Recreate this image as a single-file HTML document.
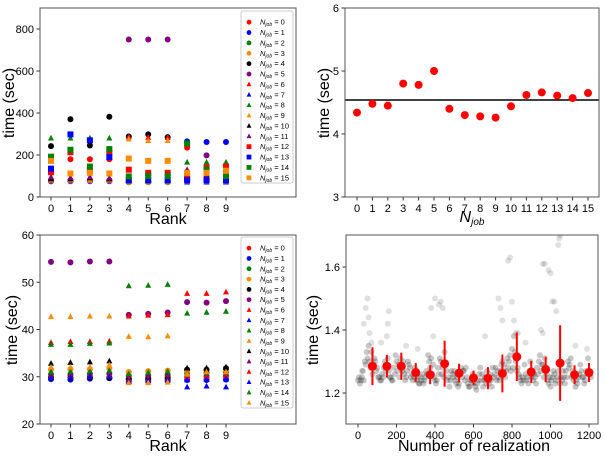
<!DOCTYPE html>
<html><head><meta charset="utf-8">
<style>
body{margin:0;background:#fff;}
svg{display:block;font-family:"Liberation Sans","DejaVu Sans",sans-serif;}
</style></head>
<body>
<svg id="fig" width="605" height="457" viewBox="0 0 605 457"></svg>
<script>
// ---------- DATA ----------
const ranks = [0,1,2,3,4,5,6,7,8,9];
const seriesLabels = ["0","1","2","3","4","5","6","7","8","9","10","11","12","13","14","15"];
const seriesColors = ["red","blue","green","darkorange","black","purple","red","blue","green","darkorange","black","purple","red","blue","green","darkorange"];
const topShapes = ["o","o","o","o","o","o","^","^","^","^","^","^","s","s","s","s"];
const botShapes = ["o","o","o","o","o","o","^","^","^","^","^","^","^","^","^","^"];
const topS0=[75,180,180,180,75,75,75,235,95,95];
const topS1=[75,75,75,75,75,75,75,265,262,262];
const topS2=[80,80,80,80,70,70,70,80,80,80];
const topS3=[78,78,78,78,72,72,72,78,78,78];
const topS4=[242,370,245,382,288,298,285,85,90,90];
const topS5=[80,80,80,80,750,750,750,90,198,85];
const topS6=[85,85,85,85,285,283,282,90,95,95];
const topS7=[80,80,80,80,75,75,75,70,70,70];
const topS8=[280,280,280,280,80,80,80,165,165,165];
const topS9=[80,80,80,80,275,268,268,75,75,75];
const topS10=[85,85,90,85,78,78,78,85,90,90];
const topS11=[95,92,95,90,80,80,80,130,100,110];
const topS12=[118,213,125,212,130,115,115,100,140,145];
const topS13=[135,298,270,190,80,80,80,80,80,80];
const topS14=[192,225,145,228,98,100,100,255,130,100];
const topS15=[172,112,115,112,183,172,172,115,115,125];
const topSeries=[topS0,topS1,topS2,topS3,topS4,topS5,topS6,topS7,topS8,topS9,topS10,topS11,topS12,topS13,topS14,topS15];

const botS0=[29.8,29.8,29.8,29.9,29.4,29.5,29.5,30.0,30.0,30.1];
const botS1=[29.5,29.4,29.6,29.7,29.0,29.1,29.2,29.3,29.3,29.4];
const botS2=[30.5,30.5,30.6,30.7,30.2,30.3,30.4,30.8,30.8,30.9];
const botS3=[31.5,31.6,31.6,31.8,31.0,31.2,31.3,31.2,31.4,31.5];
const botS4=[29.8,29.8,29.8,29.7,29.6,29.7,29.8,31.5,31.5,31.8];
const botS5=[54.3,54.2,54.4,54.4,43.1,43.3,43.6,45.8,45.7,46.0];
const botS6=[37.2,37.4,37.4,37.5,42.8,43.0,43.1,47.6,47.6,47.9];
const botS7=[31.0,31.0,31.1,31.2,29.0,29.1,29.2,27.8,28.0,27.8];
const botS8=[36.8,36.8,37.0,37.1,49.2,49.3,49.5,43.4,43.6,43.8];
const botS9=[42.7,42.7,42.8,42.8,38.5,38.4,38.6,31.5,31.8,32.0];
const botS10=[32.8,33.0,33.1,33.3,30.0,30.3,30.5,31.8,31.8,32.0];
const botS11=[30.5,30.6,30.7,30.8,30.2,30.3,30.4,30.5,30.6,30.7];
const botS12=[30.0,30.1,30.1,30.2,29.3,29.4,29.5,29.9,30.0,30.1];
const botS13=[29.8,29.9,30.0,30.0,29.0,29.2,29.3,29.3,29.4,29.5];
const botS14=[31.0,31.1,31.2,31.3,30.6,30.9,31.1,30.6,30.8,30.9];
const botS15=[32.0,32.0,32.0,32.5,28.7,28.7,28.8,30.5,31.0,31.0];
const botSeries=[botS0,botS1,botS2,botS3,botS4,botS5,botS6,botS7,botS8,botS9,botS10,botS11,botS12,botS13,botS14,botS15];

const njob = [0,1,2,3,4,5,6,7,8,9,10,11,12,13,14,15];
const njobTimes = [4.34,4.48,4.45,4.80,4.78,5.00,4.40,4.30,4.28,4.26,4.44,4.62,4.66,4.61,4.57,4.65];
const njobMean = 4.54;

const bandA=[1.24,1.23,1.25,1.24,1.29,1.31,1.30,1.33,1.29,1.30,1.28,1.25,1.24,1.25,1.30,1.29,1.27,1.25,1.24,1.26,1.30,1.29,1.31,1.27,1.26,1.25,1.30,1.28,1.26,1.25,1.27,1.25,1.23,1.24,1.23,1.25,1.26,1.30,1.31,1.29,1.24,1.24,1.26,1.30,1.28,1.33,1.27,1.25,1.24,1.26,1.27,1.23,1.22,1.26,1.25,1.27,1.28,1.23,1.22,1.24,1.23,1.22,1.23,1.26,1.24,1.22,1.25,1.27,1.23,1.24,1.28,1.26,1.24,1.25,1.27,1.30,1.29,1.27,1.28,1.32,1.34,1.38,1.30,1.28,1.25,1.23,1.24,1.26,1.25,1.27,1.25,1.24,1.25,1.28,1.30,1.27,1.29,1.31,1.26,1.23,1.22,1.25,1.26,1.24,1.27,1.23,1.24,1.25,1.27,1.30,1.29,1.25,1.24,1.22,1.23,1.26,1.27,1.25,1.24,1.26,1.27,1.25];
const bandB=[1.25,1.24,1.27,1.30,1.33,1.35,1.28,1.26,1.31,1.27,1.25,1.24,1.26,1.28,1.27,1.31,1.25,1.24,1.28,1.32,1.27,1.25,1.28,1.30,1.24,1.27,1.29,1.25,1.24,1.28,1.24,1.23,1.25,1.26,1.24,1.27,1.32,1.28,1.26,1.25,1.23,1.28,1.31,1.26,1.25,1.29,1.24,1.22,1.27,1.25,1.24,1.25,1.23,1.28,1.27,1.24,1.25,1.22,1.24,1.26,1.25,1.21,1.24,1.28,1.26,1.24,1.23,1.25,1.26,1.22,1.25,1.28,1.27,1.24,1.29,1.27,1.25,1.31,1.30,1.27,1.28,1.33,1.27,1.26,1.24,1.25,1.29,1.24,1.23,1.30,1.27,1.26,1.23,1.26,1.32,1.29,1.25,1.28,1.24,1.25,1.24,1.27,1.23,1.25,1.29,1.25,1.27,1.23,1.25,1.28,1.31,1.27,1.26,1.24,1.25,1.29,1.25,1.23,1.27,1.31,1.26];
const outX=[20,30,40,50,55,60,70,120,150,155,160,250,310,380,390,400,420,430,440,660,730,740,750,780,790,800,810,820,830,870,950,960,960,970,990,1000,1010,1020,1030,1040,1045,1050,1130,1190];
const outY=[1.27,1.42,1.47,1.50,1.44,1.39,1.36,1.36,1.38,1.42,1.46,1.35,1.34,1.47,1.38,1.50,1.48,1.49,1.47,1.38,1.50,1.47,1.43,1.62,1.63,1.49,1.43,1.39,1.39,1.36,1.40,1.39,1.61,1.61,1.59,1.58,1.49,1.49,1.46,1.67,1.69,1.70,1.35,1.34];
const meanX=[75,150,225,300,375,450,525,600,675,750,825,900,975,1050,1125,1200];
const meanY=[1.285,1.285,1.285,1.265,1.258,1.293,1.263,1.248,1.247,1.262,1.315,1.267,1.275,1.295,1.258,1.265];
const meanErr=[0.06,0.036,0.043,0.03,0.03,0.073,0.03,0.023,0.035,0.06,0.077,0.035,0.04,0.12,0.03,0.03];

// ---------- HELPERS ----------
const NS="http://www.w3.org/2000/svg";
const svg=document.getElementById('fig');
function mk(tag,attrs,parent){const e=document.createElementNS(NS,tag);for(const k in attrs)e.setAttribute(k,attrs[k]);(parent||svg).appendChild(e);return e;}
function lin(d0,d1,r0,r1){return v=>r0+(v-d0)*(r1-r0)/(d1-d0);}
function marker(g,shape,cx,cy,r,color,op){
  let e;
  if(shape==="o") e=mk('circle',{cx:cx,cy:cy,r:r,fill:color,'fill-opacity':op||1},g);
  else if(shape==="s") e=mk('rect',{x:cx-r,y:cy-r,width:2*r,height:2*r,fill:color},g);
  else e=mk('polygon',{points:`${cx},${cy-r*1.15} ${cx-r},${cy+r*0.75} ${cx+r},${cy+r*0.75}`,fill:color},g);
  return e;
}
function frame(x0,y0,x1,y1,name){
  const r=mk('rect',{x:x0,y:y0,width:x1-x0,height:y1-y0,fill:'none',stroke:'#555','stroke-width':1});
  
  
}
function ytick(x0,y,label,g){mk('line',{x1:x0-3.5,y1:y,x2:x0,y2:y,stroke:'#333'},g);const t=mk('text',{x:x0-6,y:y+4,'text-anchor':'end','font-size':11,fill:'#000'},g);t.textContent=label;}
function xtick(x,y0,label,g){mk('line',{x1:x,y1:y0,x2:x,y2:y0+3.5,stroke:'#333'},g);const t=mk('text',{x:x,y:y0+15,'text-anchor':'middle','font-size':11,fill:'#000'},g);t.textContent=label;}
function ylabel(x,y,txt,g){const t=mk('text',{x:x,y:y,'text-anchor':'middle','font-size':16,transform:`rotate(-90 ${x} ${y})`},g);t.textContent=txt;}
function xlabel(x,y,txt,g){const t=mk('text',{x:x,y:y,'text-anchor':'middle','font-size':16},g);t.textContent=txt;}
function legend(x0,y0,y1,shapes,name){
  const g=mk('g',{});
  
  
  mk('rect',{x:x0,y:y0,width:52,height:y1-y0,fill:'#fff',stroke:'#ccc','rx':2},g);
  const step=(y1-y0-6)/16;
  seriesLabels.forEach((lab,i)=>{
    const cy=y0+6+step*(i+0.5);
    const e=mk('g',{},g);
    
    
    marker(e,shapes[i],x0+8,cy,2.4,seriesColors[i]);
    const t=mk('text',{x:x0+19,y:cy+2.5,'font-size':7.5},e);
    t.innerHTML=`<tspan font-style="italic">N</tspan><tspan font-size="5" dy="1.5" font-style="italic">job</tspan><tspan dy="-1.5"> = ${lab}</tspan>`;
  });
}

// ---------- PANEL 1 ----------
(function(){
  const g=mk('g',{});
  const X=lin(0,9,51,226), Y=lin(0,900,197,8);
  [0,200,400,600,800].forEach(v=>ytick(40,Y(v),String(v),g));
  ranks.forEach(r=>xtick(X(r),197,String(r),g));
  topSeries.forEach((s,i)=>s.forEach((v,j)=>{const m=marker(g,topShapes[i],X(ranks[j]),Y(v),3,seriesColors[i]);}));
  frame(40,8,296,197,'plot-frame');
  legend(241,11,183,topShapes,'legend');
  ylabel(14,103,'time (sec)',g);
  xlabel(168,224,'Rank',g);
})();

// ---------- PANEL 2 ----------
(function(){
  const g=mk('g',{});
  const X=lin(0,15,357,588), Y=lin(3,6,197,8);
  [3,4,5,6].forEach(v=>ytick(345,Y(v),String(v),g));
  njob.forEach(n=>xtick(X(n),197,String(n),g));
  const l=mk('line',{x1:345,x2:599,y1:Y(njobMean),y2:Y(njobMean),stroke:'#000','stroke-width':1.5},g);
  
  njob.forEach((n,i)=>{const m=mk('circle',{cx:X(n),cy:Y(njobTimes[i]),r:4,fill:'red'},g);});
  frame(345,8,599,197,'plot-frame');
  ylabel(329,103,'time (sec)',g);
  const t=mk('text',{x:472,y:222,'text-anchor':'middle','font-size':16},g);
  t.innerHTML='<tspan font-style="italic">N</tspan><tspan font-size="10" dy="3" font-style="italic">job</tspan>';
  
})();

// ---------- PANEL 3 ----------
(function(){
  const g=mk('g',{});
  const X=lin(0,9,51,226), Y=lin(20,60,424,235);
  [20,30,40,50,60].forEach(v=>ytick(40,Y(v),String(v),g));
  ranks.forEach(r=>xtick(X(r),424,String(r),g));
  botSeries.forEach((s,i)=>s.forEach((v,j)=>{const m=marker(g,botShapes[i],X(ranks[j]),Y(v),3,seriesColors[i]);}));
  frame(40,235,296,424,'plot-frame');
  legend(241,237,408,botShapes,'legend');
  ylabel(17,330,'time (sec)',g);
  xlabel(168,451,'Rank',g);
})();

// ---------- PANEL 4 ----------
(function(){
  const g=mk('g',{});
  const X=lin(0,1200,358,589), Y=lin(1.2,1.6,393,267);
  const clip=mk('clipPath',{id:'c4'});mk('rect',{x:346,y:235,width:252,height:189},clip);
  [1.2,1.4,1.6].forEach(v=>ytick(346,Y(v),v.toFixed(1),g));
  [0,200,400,600,800,1000,1200].forEach(v=>xtick(X(v),424,String(v),g));
  const pg=mk('g',{'clip-path':'url(#c4)'},g);
  bandA.forEach((v,i)=>{const m=mk('circle',{cx:X(i*10),cy:Y(v),r:3,fill:'#000','fill-opacity':0.22},pg);});
  bandB.forEach((v,i)=>{const m=mk('circle',{cx:X(i*10+5),cy:Y(v),r:3,fill:'#000','fill-opacity':0.22},pg);});
  outX.forEach((x,i)=>{const m=mk('circle',{cx:X(x),cy:Y(outY[i]),r:3,fill:'#000','fill-opacity':0.12},pg);});
  meanX.forEach((x,i)=>{
    const e=mk('line',{x1:X(x),x2:X(x),y1:Y(meanY[i]-meanErr[i]),y2:Y(meanY[i]+meanErr[i]),stroke:'red','stroke-width':2},pg);
    
    const m=mk('circle',{cx:X(x),cy:Y(meanY[i]),r:4.5,fill:'red'},pg);
    
  });
  frame(346,235,598,424,'plot-frame');
  ylabel(318,330,'time (sec)',g);
  xlabel(474,451,'Number of realization',g);
})();
</script>
</body></html>
